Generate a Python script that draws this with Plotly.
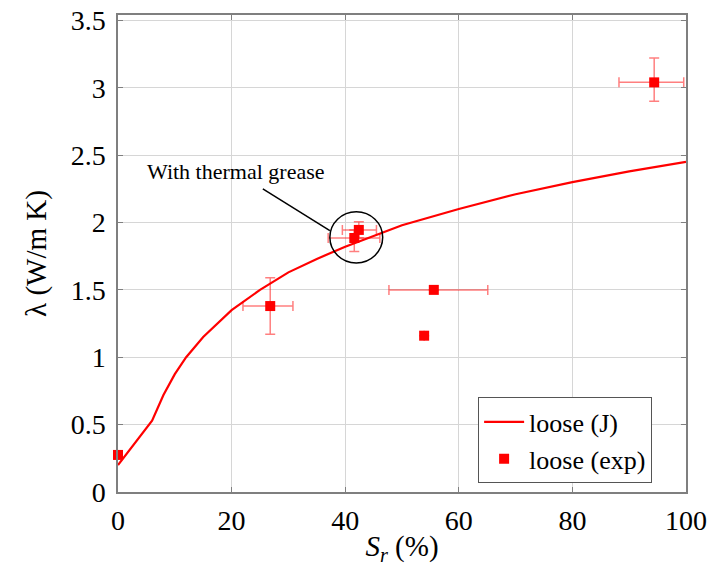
import plotly.graph_objects as go

# Model curve "loose (J)"
curve_sr = [0, 6, 8, 10, 12, 15, 20, 25, 30, 35, 40, 50, 60, 70, 80, 90, 100]
curve_lambda = [0.20, 0.53, 0.72, 0.875, 1.00, 1.15, 1.35, 1.50, 1.63, 1.73, 1.82, 1.98, 2.10, 2.21, 2.30, 2.38, 2.45]

# Experimental points "loose (exp)"
exp_sr = [0, 26.8, 42.4, 41.6, 55.6, 53.9, 94.4]
exp_lambda = [0.275, 1.38, 1.945, 1.885, 1.50, 1.16, 3.04]
exp_xerr_plus = [0, 4.0, 3.1, 4.5, 9.5, 0, 5.2]
exp_xerr_minus = [0, 4.8, 2.9, 4.6, 7.9, 0, 6.2]
exp_yerr_plus = [0, 0.21, 0.06, 0.06, 0, 0, 0.18]
exp_yerr_minus = [0, 0.21, 0.06, 0.10, 0, 0, 0.14]

x_ticks = [0, 20, 40, 60, 80, 100]
y_ticks = [0, 0.5, 1, 1.5, 2, 2.5, 3, 3.5]
y_tick_labels = ["0", "0.5", "1", "1.5", "2", "2.5", "3", "3.5"]

# annotation geometry (data coordinates)
circle_box = [37.3, 1.70, 46.6, 2.08]
arrow_line = [25.5, 2.25, 37.3, 1.94]
note_pos = [20.6, 2.38]

FONT = "Liberation Serif"
GRID = "#d6d6d6"
AXIS = "#7f7f7f"

fig = go.Figure()
fig.add_trace(go.Scatter(
    x=curve_sr, y=curve_lambda, mode="lines", name="loose (J)",
    line=dict(color="#ff0000", width=2.2, shape="linear"),
))
fig.add_trace(go.Scatter(
    x=exp_sr, y=exp_lambda, mode="markers", name="loose (exp)", cliponaxis=False,
    marker=dict(symbol="square", size=10, color="#ff0000"),
    error_x=dict(type="data", symmetric=False, array=exp_xerr_plus, arrayminus=exp_xerr_minus,
                 color="rgba(255,0,0,0.5)", thickness=1.5, width=5),
    error_y=dict(type="data", symmetric=False, array=exp_yerr_plus, arrayminus=exp_yerr_minus,
                 color="rgba(255,0,0,0.5)", thickness=1.5, width=5),
))

fig.add_shape(type="circle", xref="x", yref="y",
              x0=circle_box[0], y0=circle_box[1], x1=circle_box[2], y1=circle_box[3],
              line=dict(color="black", width=1.5))
fig.add_shape(type="line", xref="x", yref="y",
              x0=arrow_line[0], y0=arrow_line[1], x1=arrow_line[2], y1=arrow_line[3],
              line=dict(color="black", width=1.5))
fig.add_annotation(x=note_pos[0], y=note_pos[1], xref="x", yref="y", text="With thermal grease",
                   showarrow=False, font=dict(family=FONT, size=22, color="black"))

# the page body has an 8px default margin, so the margins compensate for it
fig.update_layout(
    width=716, height=568,
    margin=dict(l=110, r=38, t=7, b=84),
    paper_bgcolor="white", plot_bgcolor="white",
    font=dict(family=FONT, color="black"),
    showlegend=True,
    legend=dict(x=0.634, y=0.108, xanchor="left", yanchor="middle",
                bgcolor="white", bordercolor="#555555", borderwidth=1,
                font=dict(family=FONT, size=26), tracegroupgap=0, itemwidth=40),
)
fig.update_xaxes(
    range=[0, 100], tickvals=x_ticks, showgrid=True, gridcolor=GRID, gridwidth=1,
    showline=True, linecolor=AXIS, linewidth=1.5, mirror="ticks",
    ticks="inside", ticklen=5, tickcolor=AXIS, zeroline=False, automargin=False,
    tickfont=dict(family=FONT, size=28), ticklabelstandoff=3, ticklabeloverflow="allow",
    title=dict(text="<i>S</i><sub><i>r</i></sub> (%)", font=dict(family=FONT, size=29), standoff=0),
)
fig.update_yaxes(
    range=[0, 3.54], tickvals=y_ticks, ticktext=y_tick_labels, showgrid=True, gridcolor=GRID, gridwidth=1,
    showline=True, linecolor=AXIS, linewidth=1.5, mirror="ticks",
    ticks="inside", ticklen=5, tickcolor=AXIS, zeroline=False, automargin=False,
    tickfont=dict(family=FONT, size=28), ticklabelstandoff=5, ticklabeloverflow="allow",
    title=dict(text="λ (W/m K)", font=dict(family=FONT, size=29), standoff=16),
)

fig.write_html("out.html")
